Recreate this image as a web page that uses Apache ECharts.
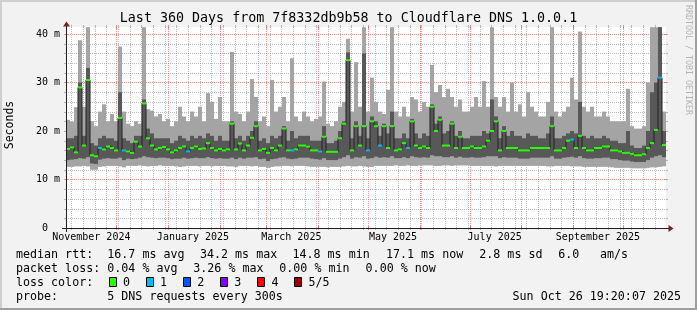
<!DOCTYPE html>
<html><head><meta charset="utf-8">
<script src="https://cdn.jsdelivr.net/npm/echarts@6/dist/echarts.min.js"></script>
<style>html,body{margin:0;padding:0;background:#f2f2f2}#c{width:697px;height:310px}</style>
</head><body><div id="c"></div><script>
// ---- data (ms), one value per 2.4-day bin, 360 days ending Sun Oct 26 19:20:07 2025 ----
const binDays = 2.4;
const lo = [12.6,12.6,12.7,12.7,12.8,12.7,12.0,12.0,12.6,12.7, 12.8,12.8,12.8,12.7,12.5,12.8,12.8,12.8,12.9,12.8,
 12.7,12.8,12.8,12.9,12.8,12.8,12.8,12.7,12.6,12.7, 12.8,12.8,12.8,12.7,12.8,12.8,12.7,12.8,12.8,12.8,
 12.7,12.7,12.6,12.8,12.8,12.8,12.7,12.8,12.6,12.6, 12.4,12.6,12.7,12.7,12.8,12.8,12.7,12.8,12.8,12.8,
 12.7,12.6,12.6,12.6,12.6,12.5,12.6,12.6,12.6,12.7, 12.8,12.7,12.7,12.8,12.7,12.6,12.6,12.8,12.8,12.8,
 12.8,12.8,12.9,12.8,12.8,12.9,12.8,12.8,12.9,12.9, 12.9,12.9,12.8,12.8,12.9,12.9,12.8,12.9,12.9,12.9,
 12.9,12.8,12.8,12.8,12.8,12.8,12.8,12.7,12.8,12.8, 12.8,12.8,12.8,12.8,12.8,12.8,12.8,12.8,12.8,12.8,
 12.7,12.7,12.8,12.8,12.8,12.8,12.7,12.7,12.7,12.6, 12.6,12.6,12.6,12.6,12.6,12.6,12.5,12.4,12.4,12.4,
 12.4,12.3,12.3,12.3,12.3,12.4,12.5,12.5,12.6,12.7];
const q1 = [14.0,14.1,14.2,14.4,14.3,14.6,13.3,13.2,14.1,14.3, 14.4,14.3,14.3,14.5,14.0,14.3,14.2,14.3,14.5,14.8,
 14.6,14.5,14.4,14.5,14.5,14.4,14.2,14.3,14.3,14.5, 14.3,14.4,14.5,14.4,14.4,14.6,14.4,14.3,14.4,14.3,
 14.3,14.5,14.2,14.5,14.3,14.5,14.5,14.6,14.2,14.3, 13.8,14.2,14.3,14.5,14.6,14.3,14.2,14.3,14.5,14.5,
 14.5,14.3,14.2,14.1,14.4,14.0,14.0,14.0,14.3,14.6, 15.0,14.3,14.6,14.5,14.8,14.3,14.4,14.7,14.5,14.6,
 14.5,14.8,14.4,14.4,14.6,14.4,14.8,14.6,14.5,14.6, 14.5,15.0,14.8,14.8,14.6,14.6,14.8,14.5,14.7,14.5,
 14.5,14.6,14.5,14.5,14.6,14.8,14.8,14.8,14.4,14.6, 14.5,14.5,14.5,14.3,14.3,14.3,14.5,14.5,14.5,14.5,
 14.5,14.8,14.3,14.3,14.5,14.6,14.7,14.5,14.8,14.4, 14.3,14.3,14.4,14.4,14.5,14.5,14.2,14.2,14.0,13.9,
 13.9,13.7,13.6,13.6,13.6,14.0,14.5,14.8,15.0,14.6];
const med = [16.3,16.6,15.6,29,17,30.5,15,14.8,16.5,16.2, 16.8,16.5,16,22.7,16,15.8,15.5,17.8,16.8,25.7,
 18.5,17,16.2,16.5,16.7,16.2,15.6,16,16.5,16.8, 15.8,16.5,16.8,16.3,16.4,17.5,16.5,16,16.3,16,
 16.2,21.5,16.2,17.4,16,17,18.6,21,16,16.3, 15.5,16.5,16,17,20.5,16,16,16.2,17,17,
 16.8,16,16,15.8,18.8,15.7,15.7,15.7,18.5,21.5, 34.6,16,21,17,21,16,22,21,17,21,
 16.5,21,16,16.2,17.5,16.5,22,17,16.5,16.8, 16.5,25,20,22.3,17,17,21.5,16.5,18.8,16.5,
 16.5,16.8,16.5,16.5,16.8,18,20,22,16,20, 16.5,16.5,16.5,16,16,16,16.5,16.5,16.5,16.5,
 16.5,21,16,16,16.5,18,18.2,16.5,19,16.5, 16,16,16.5,16.5,16.8,16.8,16,16,15.8,15.5,
 15.5,15.3,15,15,15.2,16.5,17.5,20.2,31,17.1];
const q3 = [18.5,18.5,19,30,19,33,17.5,17,18.5,19, 18.5,18.5,18,28,18.5,18,17.5,19,19,26.5,
 20.5,19.5,18.5,18.5,18.5,18.5,17.5,18,19,18.5, 18,19,18.5,19,18.5,19.5,19,18,19,18,
 18,22,18.5,19,18,19,20,22,18,18.5, 17.5,19,18.5,19,21,18,20,18.5,19,19,
 19,18,18,18,21,17.5,17.5,18,20,22, 36.2,18.5,22,19,36,18.5,23,22,19,21.5,
 19.5,24,18.5,18.5,19.5,18.5,22.5,19.5,18.5,19.5, 19,25.5,21.5,23,19.5,20,22,19,20,18.5,
 18.5,19,19,19,20,19.5,26.5,23,18.5,21, 19,20,19,19,18.5,19.5,19,19,18.5,18.5,
 19.5,23,18.5,18.5,19,19.5,20,19.5,26,19, 18.5,19,18.5,18.5,19,18.5,18,18,17.5,17.5,
 20,17,16.5,16.5,17,20,28,30,41.4,20];
const hi = [22.3,21.9,24.9,38.7,25,41.4,22,21,24,25.5, 22,23.5,22,37.4,24,21.5,21,22,21.5,41.4,
 24.5,24.2,23,23.5,22,22.5,21,22,25,23, 22,24,23,25,22,27.8,26,22.5,27,22,
 22,36.3,24,23.5,22,24,30.7,27,22,23, 21,30.5,24,25,27,22,35,23,22,24,
 23,22,22.5,23,30.2,21.5,21,22,25,26, 39,24,34.2,25,41.4,24,31,26,24,23.5,
 28.5,41.4,24,23,25,23,27,26.5,24,26, 25,33.6,28,29.5,27,28.7,27,25,26.5,24,
 24,25,27,25,30.3,25,41.4,27,25,27, 24,30,24,25.5,23,28,25,24,23,23,
 26,41.4,24,23,24,25,31,26.5,40.5,25, 24,25,23,23,24,23,22,22,22,22,
 28.7,21,20.5,20.5,21,30,41.4,41.4,41.4,24];
const loss = [0,0,0,0,0,0,0,0,1,0, 0,0,0,0,1,0,0,0,0,0, 0,0,0,0,0,0,0,0,0,0, 1,0,0,0,0,0,0,0,0,0,
 0,0,0,0,0,0,0,0,0,0, 0,0,0,0,0,0,1,0,0,0, 0,0,0,1,0,0,0,0,0,0, 0,0,0,0,0,1,0,0,1,0,
 0,0,0,0,0,1,0,0,0,0, 0,0,0,0,0,0,0,0,0,0, 0,0,0,0,0,0,0,0,0,0, 0,0,0,0,0,0,0,0,0,0,
 0,0,0,0,0,0,1,0,0,0, 0,0,0,0,0,0,0,0,0,0, 0,0,0,0,0,0,0,0,1,0];
const lossColors = ['#26ff00','#00b8ff','#0059ff','#7e00ff','#ff0000','#a00000'];
const lossLabels = ['0','1','2','3','4','5/5'];
// axis / grid tick positions (days since start)
const monthStartDays = [0.194,30.194,61.194,92.194,120.194,151.194,181.194,212.194,242.194,273.194,304.194,334.194];
const xLabelDays = [15.194,76.194,135.194,196.194,257.194,319.194];
const xLabelText = ['November 2024','January 2025','March 2025','May 2025','July 2025','September 2025'];
const firstWeekDay = 3.194, weekStep = 7;
const yLabelValues = [0,10,20,30,40];
const yMajor = [10,20,30,40];
const yMinorStep = 2;

const totalDays = 360, yMax = 41.44;
const weekDays = [];
for (let d = firstWeekDay; d < totalDays; d += weekStep) weekDays.push(d);
const yMinor = [];
for (let v = yMinorStep; v < yMax; v += yMinorStep) if (v % 10 !== 0) yMinor.push(v);

const MONO = '"DejaVu Sans Mono", monospace';
const gridMinor = 'rgba(143,143,143,0.6)';
const gridMajor = 'rgba(222,79,79,0.6)';

// rrdtool-style grid: dashed line plus short solid ticks at the plot edges
function gridLines(items, color, major) {
  return {
    type: 'custom', silent: true, z: 1, clip: false,
    encode: {x: 1, y: 2},
    renderItem(params, api) {
      const kind = api.value(0);
      const st = {stroke: color, lineWidth: 1};
      const dash = {stroke: color, lineWidth: 1, lineDash: [1, 1]};
      if (kind === 0) {
        const a = api.coord([api.value(1), 0]), b = api.coord([api.value(1), yMax]);
        const x = Math.round(a[0]) + 0.5, y0 = a[1], y1 = b[1];
        const ticks = major
          ? [[y0 - 2, y0 + 2], [y1 - 2, y1 + 2]]
          : [[y0, y0 + 2], [y1 - 2, y1]];
        return {type: 'group', children: [
          {type: 'line', shape: {x1: x, y1: y0, x2: x, y2: y1}, style: dash},
          {type: 'line', shape: {x1: x, y1: ticks[0][0], x2: x, y2: ticks[0][1]}, style: st},
          {type: 'line', shape: {x1: x, y1: ticks[1][0], x2: x, y2: ticks[1][1]}, style: st}
        ]};
      }
      const a = api.coord([0, api.value(2)]), b = api.coord([totalDays, api.value(2)]);
      const y = Math.round(a[1]) + 0.5, x0 = a[0], x1 = b[0];
      const ticks = major
        ? [[x0 - 2, x0 + 2], [x1 - 2, x1 + 2]]
        : [[x0 - 2, x0], [x1, x1 + 2]];
      return {type: 'group', children: [
        {type: 'line', shape: {x1: x0, y1: y, x2: x1, y2: y}, style: dash},
        {type: 'line', shape: {x1: ticks[0][0], y1: y, x2: ticks[0][1], y2: y}, style: st},
        {type: 'line', shape: {x1: ticks[1][0], y1: y, x2: ticks[1][1], y2: y}, style: st}
      ]};
    },
    data: items
  };
}

const binData = med.map((m, i) => [i * binDays + binDays / 2, lo[i], q1[i], m, q3[i], hi[i], loss[i]]);
const medLine = [[0, med[0]]].concat(med.map((m, i) => [i * binDays + binDays / 2, m])).concat([[totalDays, med[med.length - 1]]]);

const chart = echarts.init(document.getElementById('c'), null, {renderer: 'canvas'});
const legendFont = '11.67px ' + MONO;
function txt(x, y, s, align) {
  return {type: 'text', x: x, y: y, silent: true, style: {text: s, font: legendFont, fill: '#000', align: align || 'left', verticalAlign: 'middle', textAlign: align || 'left', textVerticalAlign: 'middle'}};
}
const L1 = 254.5, L2 = 268.7, L3 = 282.6, L4 = 296.7;
const graphics = [
  {type: 'rect', shape: {x: 0, y: 0, width: 697, height: 2}, style: {fill: '#cfcfcf'}, silent: true},
  {type: 'rect', shape: {x: 0, y: 0, width: 2, height: 310}, style: {fill: '#cfcfcf'}, silent: true},
  {type: 'rect', shape: {x: 0, y: 308, width: 697, height: 2}, style: {fill: '#9e9e9e'}, silent: true},
  {type: 'rect', shape: {x: 695, y: 0, width: 2, height: 310}, style: {fill: '#9e9e9e'}, silent: true},
  {type: 'text', x: 348.5, y: 19, silent: true, style: {text: 'Last 360 Days from 7f8332db9b58 to Cloudflare DNS 1.0.0.1', font: '13.33px ' + MONO, fill: '#000', align: 'center', verticalAlign: 'middle', textAlign: 'center', textVerticalAlign: 'middle'}},
  {type: 'text', x: 10.5, y: 125, rotation: Math.PI / 2, silent: true, style: {text: 'Seconds', font: '11.5px ' + MONO, fill: '#000', align: 'center', verticalAlign: 'middle', textAlign: 'center', textVerticalAlign: 'middle'}},
  {type: 'text', x: 688, y: 60, rotation: -Math.PI / 2, silent: true, style: {text: 'RRDTOOL / TOBI OETIKER', font: '8.3px ' + MONO, fill: '#b4b4b4', align: 'center', verticalAlign: 'middle', textAlign: 'center', textVerticalAlign: 'middle'}},
  // axis lines + arrows
  {type: 'line', silent: true, z: 10, shape: {x1: 62, y1: 228.5, x2: 669, y2: 228.5}, style: {stroke: '#1f1f1f', lineWidth: 1}},
  {type: 'line', silent: true, z: 10, shape: {x1: 66.5, y1: 232, x2: 66.5, y2: 24}, style: {stroke: '#1f1f1f', lineWidth: 1}},
  {type: 'polygon', silent: true, z: 10, shape: {points: [[668.5, 225], [673.5, 228.5], [668.5, 232]]}, style: {fill: '#7f1f1f'}},
  {type: 'polygon', silent: true, z: 10, shape: {points: [[63, 26.5], [66.5, 21.5], [70, 26.5]]}, style: {fill: '#7f1f1f'}},
  // legend
  txt(16, L1, 'median rtt:'), txt(107.3, L1, '16.7 ms avg'), txt(200, L1, '34.2 ms max'), txt(292.5, L1, '14.8 ms min'),
  txt(386, L1, '17.1 ms now'), txt(479.3, L1, '2.8 ms sd'), txt(558.3, L1, '6.0'), txt(600, L1, 'am/s'),
  txt(16, L2, 'packet loss:'), txt(107.3, L2, '0.04 % avg'), txt(193.3, L2, '3.26 % max'), txt(279.3, L2, '0.00 % min'), txt(365.6, L2, '0.00 % now'),
  txt(16, L3, 'loss color:'),
  txt(16, L4, 'probe:'), txt(107.3, L4, '5 DNS requests every 300s'), txt(681, L4, 'Sun Oct 26 19:20:07 2025', 'right')
];
lossColors.forEach((c, k) => {
  const bx = 108.5 + 37.1 * k;
  graphics.push({type: 'rect', silent: true, shape: {x: Math.round(bx) + 0.5, y: 277.5, width: 7, height: 9}, style: {fill: c, stroke: '#000', lineWidth: 1}});
  graphics.push(txt(bx + 14.5, L3, lossLabels[k]));
});

chart.setOption({
  animation: false,
  backgroundColor: '#f2f2f2',
  grid: {left: 66, top: 27, width: 600, height: 201, show: true, backgroundColor: '#ffffff', borderWidth: 0, containLabel: false},
  xAxis: {
    type: 'value', min: 0, max: totalDays,
    axisLine: {show: false}, axisTick: {show: false}, splitLine: {show: false},
    axisLabel: {
      customValues: xLabelDays, margin: 4, color: '#000', fontFamily: '"DejaVu Sans Mono"', fontSize: 10,
      formatter: v => { let k = 0, b = 1e9; xLabelDays.forEach((d, j) => { if (Math.abs(d - v) < b) { b = Math.abs(d - v); k = j; } }); return xLabelText[k]; }
    }
  },
  yAxis: {
    type: 'value', min: 0, max: yMax,
    axisLine: {show: false}, axisTick: {show: false}, splitLine: {show: false},
    axisLabel: {customValues: yLabelValues, margin: 6, color: '#000', fontFamily: '"DejaVu Sans Mono"', fontSize: 10,
      formatter: v => v === 0 ? '0  ' : (Math.round(v) + ' m')}
  },
  graphic: graphics,
  series: [
    gridLines(weekDays.map(d => [0, d, 0]), gridMinor, false),
    gridLines(yMinor.map(v => [1, 0, v]), gridMinor, false),
    gridLines(monthStartDays.map(d => [0, d, 0]), gridMajor, true),
    gridLines(yMajor.map(v => [1, 0, v]), gridMajor, true),
    {
      type: 'custom', z: 2, clip: true, silent: true,
      encode: {x: 0, y: 3},
      renderItem(params, api) {
        const xc = api.value(0);
        const a = api.coord([xc - binDays / 2, api.value(1)]);
        const b = api.coord([xc + binDays / 2, api.value(5)]);
        const c = api.coord([xc - binDays / 2, api.value(2)]);
        const d = api.coord([xc + binDays / 2, api.value(4)]);
        return {type: 'group', children: [
          {type: 'rect', shape: {x: a[0], y: b[1], width: b[0] - a[0], height: a[1] - b[1]}, style: {fill: '#a4a4a4'}},
          {type: 'rect', shape: {x: c[0], y: d[1], width: d[0] - c[0], height: c[1] - d[1]}, style: {fill: '#585858'}}
        ]};
      },
      data: binData
    },
    {
      type: 'line', z: 3, silent: true, step: 'middle', symbol: 'none', clip: true,
      lineStyle: {color: '#202020', width: 1},
      data: medLine
    },
    {
      type: 'custom', z: 4, clip: true, silent: true,
      encode: {x: 0, y: 3},
      renderItem(params, api) {
        const xc = api.value(0);
        const a = api.coord([xc - binDays / 2, api.value(3)]);
        const b = api.coord([xc + binDays / 2, api.value(3)]);
        return {type: 'rect', shape: {x: a[0], y: a[1] - 1, width: b[0] - a[0], height: 2}, style: {fill: lossColors[api.value(6)]}};
      },
      data: binData
    }
  ]
});
</script></body></html>
